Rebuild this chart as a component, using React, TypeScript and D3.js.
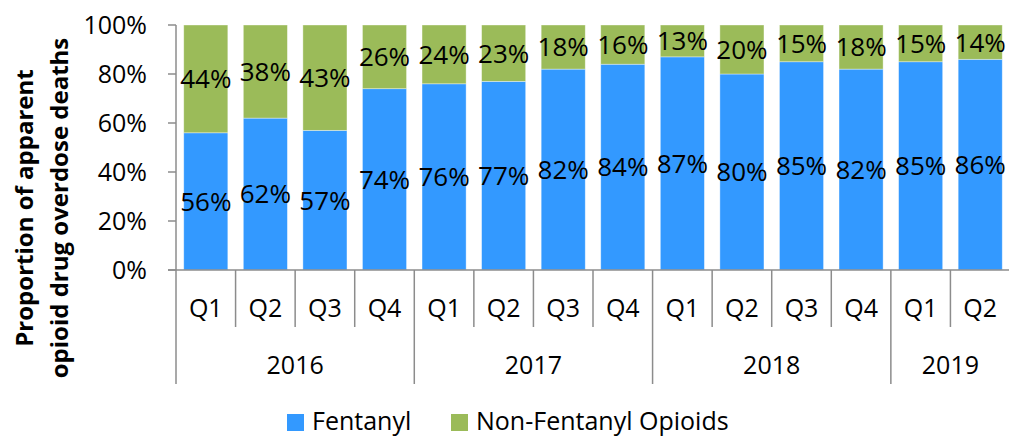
import React from "react";
import * as d3 from "d3";

const width = 1009;
const height = 436;

// data
const quarters = ["Q1", "Q2", "Q3", "Q4", "Q1", "Q2", "Q3", "Q4", "Q1", "Q2", "Q3", "Q4", "Q1", "Q2"];
const years = ["2016", "2017", "2018", "2019"];
const quartersPerYear = [4, 4, 4, 2];
const fentanyl = [56, 62, 57, 74, 76, 77, 82, 84, 87, 80, 85, 82, 85, 86];
const nonFentanyl = [44, 38, 43, 26, 24, 23, 18, 16, 13, 20, 15, 18, 15, 14];
const yTicks = [0, 20, 40, 60, 80, 100];
const seriesNames = ["Fentanyl", "Non-Fentanyl Opioids"];
const colors = ["#3399FF", "#9BBB59"];

const font = "'Open Sans', sans-serif";
const axisColor = "#8c8c8c";

const App = () => {
  const left = 176;
  const right = 1010;
  const top = 25;
  const bottom = 270;

  const idx = quarters.map((_, i) => String(i));
  const x = d3.scaleBand().domain(idx).range([left, right]).paddingInner(0.26).paddingOuter(0.13);
  const y = d3.scaleLinear().domain([0, 100]).range([bottom, top]);
  const step = x.step();
  const catStart = (i: number) => left + i * step;

  // stack the two series
  const rows = quarters.map((_, i) => ({ i: String(i), f: fentanyl[i], n: nonFentanyl[i] }));
  const stacked = d3.stack<any>().keys(["f", "n"])(rows);

  // year group boundaries
  let acc = 0;
  const groups = years.map((yr, k) => {
    const start = acc;
    acc += quartersPerYear[k];
    return { yr, start, end: acc };
  });

  return (
    <svg width={width} height={height} style={{ display: "block", position: "absolute", left: 0, top: 0 }}>
      <rect width={width} height={height} fill="#fff" />

      {/* bars */}
      {stacked.map((layer, s) => (
        <g key={s}>
          {layer.map((d: any, i: number) => {
            const y0 = y(d[0]);
            const y1 = y(d[1]);
            return (
              <g key={i}>
                <rect x={x(String(i))} y={y1} width={x.bandwidth()} height={y0 - y1} fill={colors[s]} stroke="#ffffff" strokeOpacity={0.5} strokeWidth={0.75} />
                <text
                  x={(x(String(i)) as number) + x.bandwidth() / 2}
                  y={(y0 + y1) / 2}
                  dy="0.36em"
                  textAnchor="middle"
                  fontFamily={font}
                  fontSize={26}
                  fill="#000"
                >
                  {d[1] - d[0]}%
                </text>
              </g>
            );
          })}
        </g>
      ))}

      {/* y axis */}
      <line x1={left} x2={left} y1={top} y2={bottom} stroke={axisColor} strokeWidth={1.5} />
      {yTicks.map((t) => (
        <g key={t}>
          <line x1={left - 8} x2={left} y1={y(t)} y2={y(t)} stroke={axisColor} strokeWidth={1.5} />
          <text x={147} y={y(t)} dy="0.36em" textAnchor="end" fontFamily={font} fontSize={25} fill="#000">
            {t}%
          </text>
        </g>
      ))}

      {/* x axis */}
      <line x1={left - 8} x2={width} y1={bottom} y2={bottom} stroke={axisColor} strokeWidth={1.5} />
      {quarters.map((q, i) => (
        <g key={i}>
          {i > 0 && !groups.some((g) => g.start === i) && (
            <line x1={catStart(i)} x2={catStart(i)} y1={bottom} y2={327} stroke={axisColor} strokeWidth={1.5} />
          )}
          <text x={catStart(i) + step / 2} y={308} dy="0.36em" textAnchor="middle" fontFamily={font} fontSize={25} fill="#000">
            {q}
          </text>
        </g>
      ))}
      {groups.map((g) => (
        <g key={g.yr}>
          <line x1={catStart(g.start)} x2={catStart(g.start)} y1={bottom} y2={384} stroke={axisColor} strokeWidth={1.5} />
          <text
            x={(catStart(g.start) + catStart(g.end)) / 2}
            y={365}
            dy="0.36em"
            textAnchor="middle"
            fontFamily={font}
            fontSize={25}
            fill="#000"
          >
            {g.yr}
          </text>
        </g>
      ))}

      {/* y title */}
      <g transform="translate(0,208) rotate(-90)">
        <text x={0} y={33} textAnchor="middle" fontFamily={font} fontSize={24} fontWeight="bold" fill="#000">
          Proportion of apparent
        </text>
        <text x={0} y={68} textAnchor="middle" fontFamily={font} fontSize={24} fontWeight="bold" fill="#000">
          opioid drug overdose deaths
        </text>
      </g>

      {/* legend */}
      {seriesNames.map((name, s) => {
        const lx = s === 0 ? 287 : 451;
        return (
          <g key={name}>
            <rect x={lx} y={414} width={17} height={17} fill={colors[s]} />
            <text x={lx + 25} y={430} fontFamily={font} fontSize={25} fill="#000">
              {name}
            </text>
          </g>
        );
      })}
    </svg>
  );
};

export default App;
